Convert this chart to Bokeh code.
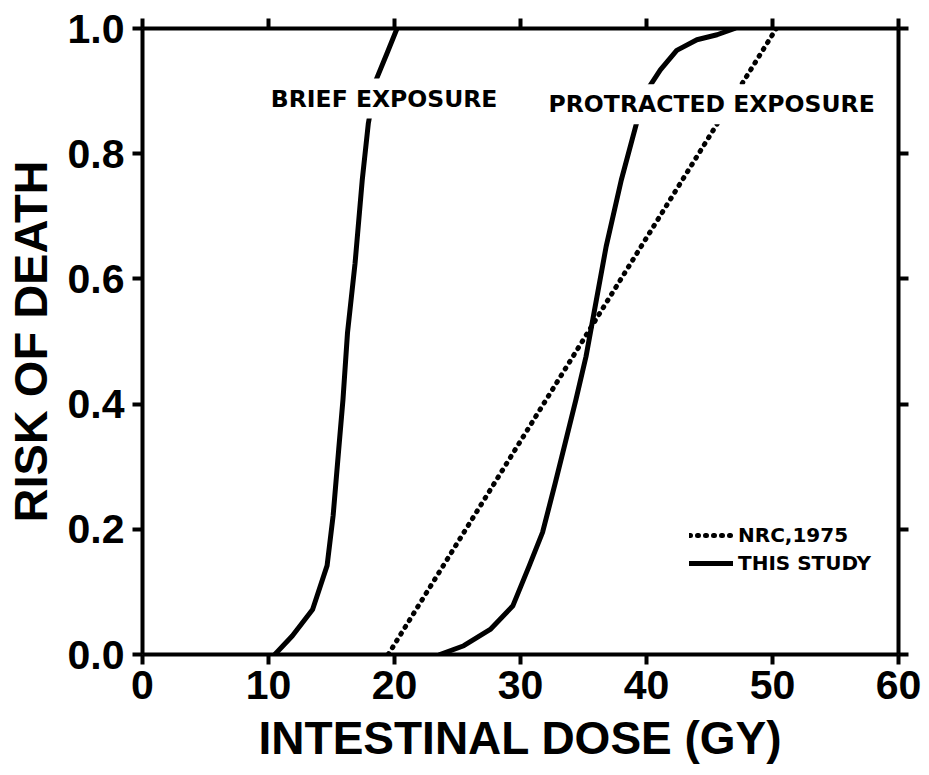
from bokeh.plotting import figure
from bokeh.models import Range1d, FixedTicker, LinearAxis, Label, Legend, LegendItem
from bokeh.embed import file_html
from bokeh.resources import INLINE

# ---- data ----
brief_dose = [10.5, 11.9, 13.5, 14.65, 15.13, 15.57, 15.91, 16.27, 16.87, 17.44, 17.92, 18.54, 19.4, 20.2]
brief_risk = [0.0, 0.03, 0.072, 0.142, 0.222, 0.327, 0.407, 0.514, 0.625, 0.758, 0.848, 0.918, 0.96, 1.0]

protracted_dose = [23.6, 25.5, 27.6, 29.4, 30.7, 31.75, 32.76, 33.55, 34.4, 35.2, 35.6, 36.8, 38.0, 39.2,
                   40.06, 41.1, 42.4, 44.0, 45.6, 47.0]
protracted_risk = [0.0, 0.014, 0.04, 0.078, 0.142, 0.195, 0.274, 0.338, 0.407, 0.476, 0.52, 0.652, 0.758,
                   0.848, 0.902, 0.934, 0.965, 0.982, 0.99, 1.0]

nrc_dose = [19.5, 50.3]
nrc_risk = [0.0, 1.0]

x_ticks = [0, 10, 20, 30, 40, 50, 60]
y_ticks = [0.0, 0.2, 0.4, 0.6, 0.8, 1.0]
y_tick_labels = ["0.0", "0.2", "0.4", "0.6", "0.8", "1.0"]

x_title = "INTESTINAL DOSE (GY)"
y_title = "RISK OF DEATH"
brief_label = "BRIEF EXPOSURE"
protracted_label = "PROTRACTED EXPOSURE"
legend_labels = ["NRC,1975", "THIS STUDY"]

INK = "#000000"
TICK_FONT = "Liberation Sans"
NOTE_FONT = "DejaVu Sans"

p = figure(width=929, height=772, x_range=Range1d(0, 60), y_range=Range1d(0, 1),
           x_axis_location=None, y_axis_location=None,
           output_backend="svg", toolbar_location=None,
           min_border_left=140, min_border_right=31, min_border_top=28, min_border_bottom=118)
p.grid.visible = False
p.outline_line_color = None
p.background_fill_color = "white"
p.border_fill_color = "white"

bottom_axis = LinearAxis(ticker=FixedTicker(ticks=x_ticks))
top_axis = LinearAxis(ticker=FixedTicker(ticks=x_ticks))
left_axis = LinearAxis(ticker=FixedTicker(ticks=y_ticks),
                       major_label_overrides={t: l for t, l in zip(y_ticks, y_tick_labels)})
right_axis = LinearAxis(ticker=FixedTicker(ticks=y_ticks))
p.add_layout(bottom_axis, "below")
p.add_layout(left_axis, "left")
p.add_layout(top_axis, "above")
p.add_layout(right_axis, "right")

for ax in [bottom_axis, left_axis, top_axis, right_axis]:
    ax.axis_line_width = 4
    ax.axis_line_color = INK
    ax.major_tick_line_width = 4
    ax.major_tick_line_color = INK
    ax.major_tick_out = 10
    ax.major_tick_in = 0
    ax.minor_tick_line_color = None
    ax.major_label_text_font = TICK_FONT
    ax.major_label_text_font_style = "bold"
    ax.major_label_text_font_size = "41px"
    ax.major_label_text_color = INK

top_axis.major_label_overrides = {t: "" for t in x_ticks}
right_axis.major_label_overrides = {t: "" for t in y_ticks}
for ax in [top_axis, right_axis]:
    ax.major_label_standoff = 0

bottom_axis.major_label_standoff = 6
left_axis.major_label_standoff = 8

bottom_axis.axis_label = x_title
left_axis.axis_label = y_title
for ax, so, fs in [(bottom_axis, 10, "46px"), (left_axis, 8, "47px")]:
    ax.axis_label_text_font = TICK_FONT
    ax.axis_label_text_font_style = "bold"
    ax.axis_label_text_font_size = fs
    ax.axis_label_text_color = INK
    ax.axis_label_standoff = so

nrc = p.line(nrc_dose, nrc_risk, line_color=INK, line_width=5, line_dash="1 7", line_cap="round")
brief = p.line(brief_dose, brief_risk, line_color=INK, line_width=5, line_join="round", line_cap="round")
prot = p.line(protracted_dose, protracted_risk, line_color=INK, line_width=5, line_join="round", line_cap="round")

for txt, x, y in [(brief_label, 9.71, 0.888), (protracted_label, 31.75, 0.879)]:
    p.add_layout(Label(x=x, y=y, text=txt, text_font=NOTE_FONT, text_font_style="bold",
                       text_font_size="23.5px", text_color=INK, text_align="left", text_baseline="middle",
                       background_fill_color="white", padding=6))

legend = Legend(items=[LegendItem(label=legend_labels[0], renderers=[nrc]),
                       LegendItem(label=legend_labels[1], renderers=[brief, prot])],
                location=(547, 79), orientation="vertical",
                glyph_width=44, glyph_height=20, label_height=20, label_standoff=5,
                spacing=4, padding=0, margin=0,
                border_line_color=None, background_fill_alpha=0.0,
                label_text_font=NOTE_FONT, label_text_font_style="bold",
                label_text_font_size="20px", label_text_color=INK)
p.add_layout(legend)

open("out.html", "w").write(file_html(p, INLINE))
